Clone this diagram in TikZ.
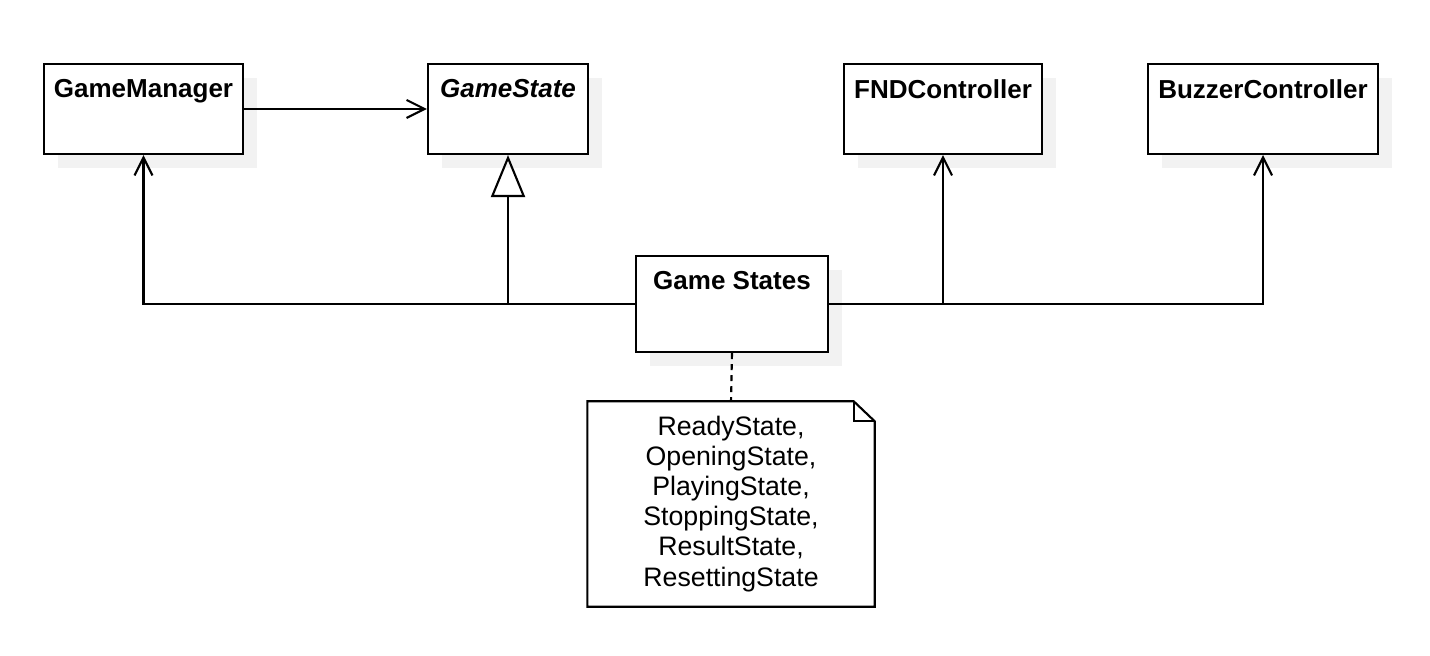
\documentclass[tikz,border=0pt]{standalone}
\usepackage{fontspec}
\setmainfont{Liberation Sans}
\usetikzlibrary{arrows.meta, positioning, shadows, calc}
\definecolor{umlshadow}{HTML}{F2F2F2}

\begin{document}
\begin{tikzpicture}[
      cls/.style={draw, fill=white, line width=0.6pt,
                  general shadow={fill=umlshadow, shadow xshift=0.14cm, shadow yshift=-0.14cm},
                  minimum height=0.9cm, inner sep=0pt},
      title/.style={font=\fontsize{7.4}{8.8}\selectfont\bfseries,
                    inner sep=0pt, anchor=north, yshift=-0.16cm},
      note/.style={font=\fontsize{7.6}{8.55}\selectfont, align=center,
                   minimum width=2.86cm, minimum height=2.04cm, inner sep=0pt},
      assoc/.style={-{Straight Barb[length=0.18cm, width=0.18cm]}, line width=0.6pt},
      inherit/.style={-{Triangle[open, length=0.42cm, width=0.34cm]}, line width=0.6pt},
      link/.style={line width=0.6pt, dash pattern=on 0.06cm off 0.05cm}
    ]
      \useasboundingbox (0,0) rectangle (14.30,-6.56);

      \node[cls, minimum width=1.99cm,
            label={[title]north:GameManager}] (gm) at (1.435,-1.09) {};
      \node[cls, minimum width=1.60cm,
            label={[title]north:\itshape GameState}] (gs) at (5.08,-1.09) {};
      \node[cls, minimum width=1.98cm,
            label={[title]north:FNDController}] (fnd) at (9.43,-1.09) {};
      \node[cls, minimum width=2.30cm,
            label={[title]north:BuzzerController}] (bz) at (12.63,-1.09) {};
      \node[cls, minimum width=1.92cm, minimum height=0.96cm,
            label={[title]north:Game States}] (states) at (7.32,-3.04) {};

      \draw[assoc] (gm) -- (gs);
      \draw[assoc] (states.west) -| (gm.south);
      \draw[inherit] (states.west -| gs.south) -- (gs.south);
      \draw[assoc] (states.east) -| (bz.south);
      \draw[assoc] (states.east -| fnd.south) -- (fnd.south);

      % note with folded corner
      \node[note] (nt) at (7.31,-5.04) {ReadyState,\\ OpeningState,\\ PlayingState,\\
        StoppingState,\\ ResultState,\\ ResettingState};
      \draw[line width=0.6pt] (nt.north west) -- ($(nt.north east)+(-0.21,0)$)
        -- ($(nt.north east)+(0,-0.2)$) -- (nt.south east) -- (nt.south west) -- cycle;
      \draw[line width=0.6pt] ($(nt.north east)+(-0.21,0)$) -- ++(0,-0.2) -- ++(0.21,0);
      \draw[link] (states.south) -- (nt.north);
    \end{tikzpicture}
\end{document}
